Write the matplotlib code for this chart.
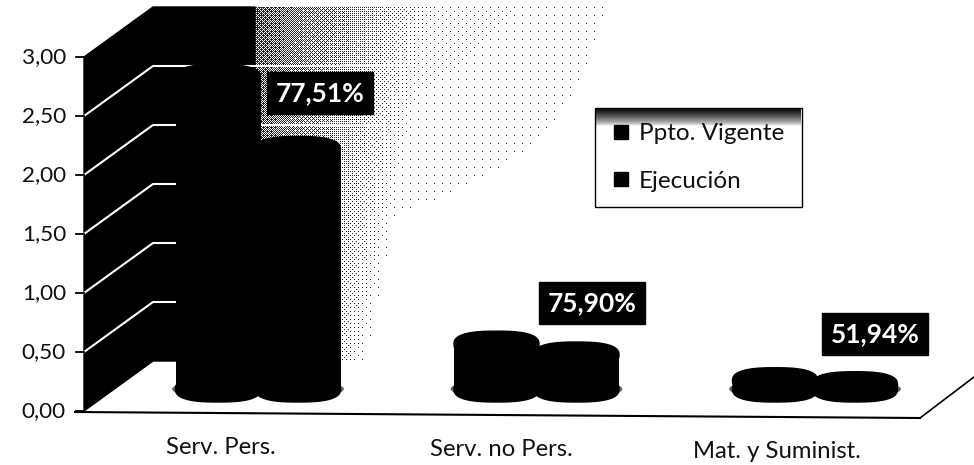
"""Scanned 3D cylinder chart: budget vs execution."""
import numpy as np
import matplotlib
matplotlib.use("Agg")
import matplotlib.pyplot as plt
import matplotlib.patches as mpatches
from matplotlib.lines import Line2D

plt.rcParams["font.family"] = ["Lato", "DejaVu Sans"]

categories = ["Serv. Pers.", "Serv. no Pers.", "Mat. y Suminist."]
ppto_vigente = [2.64, 0.38, 0.07]
ejecucion = [2.03, 0.288, 0.036]
pct_labels = ["77,51%", "75,90%", "51,94%"]
y_ticks = [0.0, 0.5, 1.0, 1.5, 2.0, 2.5, 3.0]
y_tick_labels = ["0,00", "0,50", "1,00", "1,50", "2,00", "2,50", "3,00"]
series_names = ["Ppto. Vigente", "Ejecución"]

W, H = 974, 465
X_UNIT = 278.5  # pixels per category
Y_UNIT = 118.0  # pixels per axis unit
X_CAT0 = 258.0
Y_ZERO = 411.0


def px(x):
    return (x - X_CAT0) / X_UNIT


def py(y):
    return (Y_ZERO - y) / Y_UNIT


def cyl_cap(xc, yc, w, h, n=2.6):
    """Squarish ellipse, the scan rounds the cylinder caps like this."""
    t = np.linspace(0, 2 * np.pi, 80)
    c, s = np.cos(t), np.sin(t)
    xs = xc + w / 2 * np.sign(c) * np.abs(c) ** (2 / n)
    ys = yc + h / 2 * np.sign(s) * np.abs(s) ** (2 / n)
    return np.column_stack([xs, ys])


fig = plt.figure(figsize=(W / 100, H / 100), dpi=100)
ax = fig.add_axes([0, 0, 1, 1])
ax.axis("off")

x0 = px(84)
depth_x = 69 / X_UNIT
depth_y = 50 / Y_UNIT
bar_w = 85 / X_UNIT
bar_off = 40 / X_UNIT
ell_h = 26 / Y_UNIT
base = py(389)

# Speckled fade on the back wall, ordered dither of a smooth falloff
nx, ny = 400, 354
u = np.arange(nx)[None, :] / nx
v = np.arange(ny)[:, None] / ny
falloff = 0.62 * np.clip(1 - u / (0.46 - 0.16 * v), 0, 1) ** 1.3 + 0.07 * (1 - u) * (1 - v) ** 2
bayer = np.array([[0.0]])
for _ in range(3):
    bayer = np.block([[4 * bayer, 4 * bayer + 2], [4 * bayer + 3, 4 * bayer + 1]])
bayer = (bayer + 0.5) / bayer.size
thresh = np.tile(bayer, (ny // 8 + 1, nx // 8 + 1))[:ny, :nx]
rgba = np.zeros((ny, nx, 4))
rgba[..., 3] = (falloff > thresh) * 0.85
ax.imshow(rgba, extent=[px(250), px(650), py(361), py(7)], origin="upper",
          aspect="auto", zorder=1, interpolation="nearest")

# Left and back wall
wall = [
    (x0, 0), (x0, 3), (x0 + depth_x, 3 + depth_y), (px(255), 3 + depth_y),
    (px(255), depth_y), (x0 + depth_x, depth_y),
]
ax.add_patch(mpatches.Polygon(wall, closed=True, facecolor="black", edgecolor="black", zorder=2))

# Grid lines, on the speckle only the top ones survive
for val in y_ticks[1:-1]:
    end = px(420) if val >= 2.0 else px(200)
    ax.plot([x0, x0 + depth_x, end], [val, val + depth_y, val + depth_y],
            color="white", lw=1.5, zorder=3)
for val in y_ticks:
    ax.plot([px(76), x0], [val, val], color="black", lw=1.3, zorder=3)

# Floor
ax.plot([px(75), px(920)], [py(412), py(418)], color="black", lw=1.5, zorder=3)
ax.plot([px(920), px(974)], [py(418), py(377)], color="black", lw=1.2, zorder=3)

# Cylinders
cat_x = np.arange(len(categories))
for offs, values, z in [(-bar_off, ppto_vigente, 5), (bar_off, ejecucion, 6)]:
    xpos = cat_x + offs
    ax.bar(xpos, values, bottom=base, width=bar_w, color="black", zorder=z)
    for xc, val in zip(xpos, values):
        ax.add_patch(mpatches.Ellipse((xc, base), bar_w * 1.08, ell_h * 0.7,
                                      facecolor="#666666", edgecolor="none", zorder=4))
        ax.add_patch(mpatches.Polygon(cyl_cap(xc, base, bar_w, ell_h), color="black", zorder=z))
        ax.add_patch(mpatches.Polygon(cyl_cap(xc, base + val, bar_w, ell_h), color="black", zorder=z))

# Percent boxes
label_x = [px(320), px(592), px(875)]
label_y = [py(93), py(303), py(334)]
for xl, yl, s in zip(label_x, label_y, pct_labels):
    ax.text(xl, yl, s, color="white", fontsize=19, fontweight="bold", ha="center", va="center",
            bbox=dict(facecolor="black", edgecolor="black", boxstyle="square,pad=0.34"), zorder=8)

# Value axis labels
for val, s in zip(y_ticks, y_tick_labels):
    ax.text(px(66), val, s, ha="right", va="center", fontsize=16.2, color="#111111", zorder=8)

# Category labels
cat_label_y = [py(447), py(449), py(451)]
cat_label_x = [px(221), px(501), px(777)]
for xl, yl, s in zip(cat_label_x, cat_label_y, categories):
    ax.text(xl, yl, s, ha="center", va="center", fontsize=17.2, color="#111111", zorder=8)

# Legend
handles = [
    Line2D([], [], linestyle="none", marker="s", markersize=10.5, color="black", label=n)
    for n in series_names
]
leg = ax.legend(
    handles=handles, loc="upper left",
    bbox_to_anchor=(595 / W, 1 - 108 / H, 207 / W, 0.0), mode="expand",
    bbox_transform=ax.transAxes, fontsize=17.5, frameon=True, fancybox=False,
    edgecolor="black", framealpha=1, borderaxespad=0, labelspacing=1.1,
    borderpad=0.62, handlelength=0.9, handletextpad=0.3, labelcolor="#111111",
)
leg.set_zorder(7)
leg.get_frame().set_linewidth(1.0)

# Dark band at the top of the legend
band_alpha = np.linspace(1, 0, 40).reshape(-1, 1) ** 0.7
band = np.zeros((40, 1, 4))
band[..., 3] = band_alpha
ax.imshow(band, extent=[px(596), px(801), py(126), py(108)], origin="upper",
          aspect="auto", zorder=9)

ax.set_xlim(px(0), px(W))
ax.set_ylim(py(H), py(0))
fig.savefig("out.png", dpi=100)
